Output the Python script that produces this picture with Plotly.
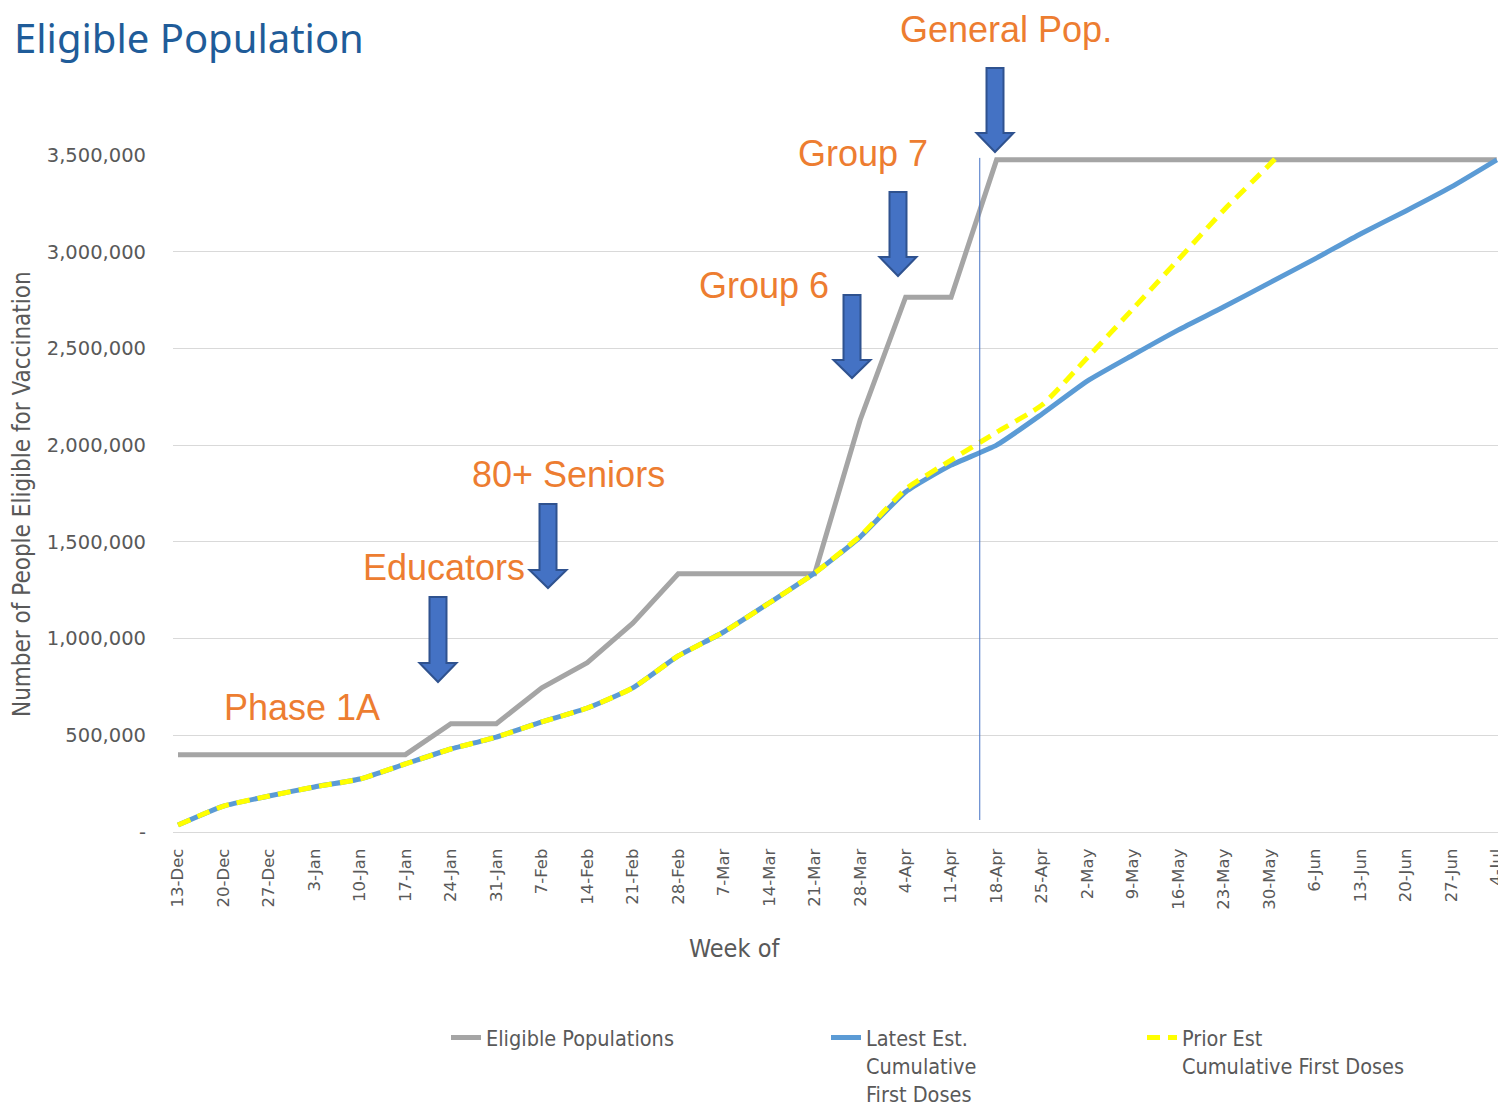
import plotly.graph_objects as go

weeks = ["13-Dec", "20-Dec", "27-Dec", "3-Jan", "10-Jan", "17-Jan", "24-Jan", "31-Jan",
         "7-Feb", "14-Feb", "21-Feb", "28-Feb", "7-Mar", "14-Mar", "21-Mar", "28-Mar",
         "4-Apr", "11-Apr", "18-Apr", "25-Apr", "2-May", "9-May", "16-May", "23-May",
         "30-May", "6-Jun", "13-Jun", "20-Jun", "27-Jun", "4-Jul"]

eligible = [400000, 400000, 400000, 400000, 400000, 400000, 560000, 560000,
            745000, 875000, 1080000, 1335000, 1335000, 1335000, 1335000, 2130000,
            2765000, 2765000, 3475000, 3475000, 3475000, 3475000, 3475000, 3475000,
            3475000, 3475000, 3475000, 3475000, 3475000, 3475000]

latest = [36000, 134000, 186000, 233000, 274000, 352000, 429000, 491000,
          569000, 641000, 745000, 910000, 1034000, 1184000, 1339000, 1525000,
          1758000, 1897000, 2000000, 2161000, 2332000, 2466000, 2596000, 2715000,
          2839000, 2963000, 3092000, 3211000, 3335000, 3475000]

prior = [36000, 134000, 186000, 233000, 274000, 352000, 429000, 491000,
         569000, 641000, 745000, 910000, 1034000, 1184000, 1339000, 1530000,
         1772000, 1923000, 2067000, 2208000, 2453000, 2705000, 2960000, 3216000,
         3450000, 3700000, None, None, None, None]

y_ticks = [0, 500000, 1000000, 1500000, 2000000, 2500000, 3000000, 3500000]
y_tick_text = ["-", "500,000", "1,000,000", "1,500,000", "2,000,000", "2,500,000",
               "3,000,000", "3,500,000"]

phase_labels = ["Phase 1A", "Educators", "80+ Seniors", "Group 6", "Group 7", "General Pop."]

# the page body has an 8px margin; layout is expressed in screen pixels
OFF = 8
W, H = 1506, 1112
PL, PT, PR, PB = 173, 155, 1500, 832          # plot area on screen
ML, MT = PL - OFF, PT - OFF
PW, PH = PR - PL, PB - PT
MR, MB = W - ML - PW, H - MT - PH


def px(x):
    return (x - PL) / PW


def py(y):
    return (PB - y) / PH


fig = go.Figure()
fig.add_trace(go.Scatter(x=weeks, y=eligible, mode="lines", name="Eligible Populations",
                         line=dict(color="#A5A5A5", width=5), legend="legend"))
fig.add_trace(go.Scatter(x=weeks, y=latest, mode="lines",
                         name="Latest Est.<br>Cumulative<br>First Doses",
                         line=dict(color="#5B9BD5", width=5, shape="spline", smoothing=0.5),
                         legend="legend2"))
fig.add_trace(go.Scatter(x=weeks, y=prior, mode="lines",
                         name="Prior Est<br>Cumulative First Doses",
                         line=dict(color="#FFFF00", width=5, dash="13px,8px",
                                   shape="spline", smoothing=0.5),
                         legend="legend3"))

shapes = []
# vertical reference line
shapes.append(dict(type="line", xref="x", yref="y", x0=17.63, x1=17.63, y0=62000, y1=3485000,
                   line=dict(color="#4472C4", width=1)))

# block arrows (cx, top, head start, tip) in screen pixels
arrows = [(438, 597, 663, 682), (548, 504, 570, 588), (852, 295, 360, 378),
          (898, 192, 257, 276), (995, 68, 133, 152)]
sw, hw = 8.5, 18.5
for cx, top, hs, tip in arrows:
    pts = [(cx - sw, top), (cx + sw, top), (cx + sw, hs), (cx + hw, hs), (cx, tip),
           (cx - hw, hs), (cx - sw, hs)]
    path = "M " + " L ".join(f"{px(a):.5f},{py(b):.5f}" for a, b in pts) + " Z"
    shapes.append(dict(type="path", xref="paper", yref="paper", path=path,
                       fillcolor="#4472C4", line=dict(color="#2F528F", width=2)))

narrow = "Liberation Sans Narrow, DejaVu Sans Condensed, Roboto, sans-serif"

annotations = []
label_pos = [(302, 707), (444, 567), (568, 474), (764, 285), (863, 153), (1006, 29)]
for txt, (x, y) in zip(phase_labels, label_pos):
    annotations.append(dict(text=txt, xref="paper", yref="paper", x=px(x), y=py(y),
                            xanchor="center", yanchor="middle", showarrow=False,
                            font=dict(family="Liberation Sans, Arial, sans-serif",
                                      size=36, color="#ED7D31")))

annotations.append(dict(text="Eligible Population", xref="paper", yref="paper",
                        x=px(12), y=py(37), xanchor="left", yanchor="middle",
                        showarrow=False,
                        font=dict(family="Noto Sans, Open Sans, sans-serif", size=40,
                                  color="#1F5C99")))
annotations.append(dict(text="Week of", xref="paper", yref="paper",
                        x=px(734), y=py(948), xanchor="center", yanchor="middle",
                        showarrow=False,
                        font=dict(family=narrow, size=25, color="#595959")))
annotations.append(dict(text="Number of People Eligible for Vaccination", xref="paper",
                        yref="paper", x=px(22), y=py(494), xanchor="center",
                        yanchor="middle", textangle=-90, showarrow=False,
                        font=dict(family=narrow, size=24, color="#595959")))

leg_font = dict(family=narrow, size=21.5, color="#595959")


def leg(x_text):
    return dict(orientation="v", x=px(x_text - 40), y=py(1017), xanchor="left",
                yanchor="top", valign="top", font=leg_font, bgcolor="rgba(0,0,0,0)")


fig.update_layout(
    width=W, height=H,
    margin=dict(l=ML, r=MR, t=MT, b=MB, autoexpand=False),
    paper_bgcolor="white", plot_bgcolor="white",
    showlegend=True,
    legend=leg(486),
    legend2=leg(866),
    legend3=leg(1182),
    xaxis=dict(type="category", range=[-0.11, 29.07], showgrid=False,
               showline=True, linecolor="#D9D9D9", linewidth=1, ticks="",
               tickangle=-90, ticklabelstandoff=9,
               tickfont=dict(family="DejaVu Sans, Verdana, sans-serif",
                             size=16.5, color="#595959")),
    yaxis=dict(range=[0, 3500000], tickvals=y_ticks, ticktext=y_tick_text,
               showgrid=True, gridcolor="#D9D9D9", gridwidth=1, zeroline=False,
               showline=False, ticks="", ticklabelstandoff=26,
               tickfont=dict(family="DejaVu Sans, Verdana, sans-serif", size=19.5,
                             color="#595959")),
    shapes=shapes,
    annotations=annotations,
)

fig.write_html("out.html")
